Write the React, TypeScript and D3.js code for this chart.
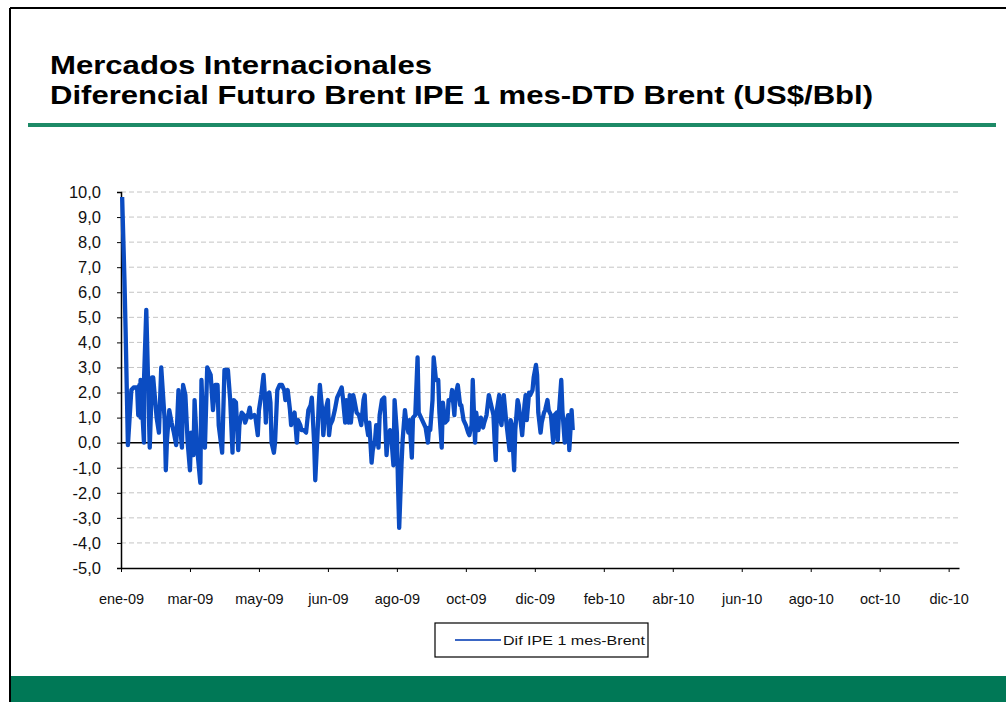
import React, { useRef, useEffect } from 'react';
import * as d3 from 'd3';

// days counted from 1 Jan 2009
const days = [
  1, 3, 4, 6.1, 9.0, 11.9, 14.8, 15.4, 16.2, 17.1, 17.7, 20.0, 20.6, 22.9, 25.5, 27.2, 28.7, 31.6, 33.6,
  35.9, 38.0, 39.4, 40.9, 42.9, 44.3, 46.1, 48.1, 50.4, 51.9, 53.6, 54.8, 56.2, 58.3, 60.3, 61.7, 63.2,
  64.6, 66.4, 69.3, 70.4, 72.2, 73.3, 75.7, 78.0, 80.0, 82.0, 84.3, 85.8, 88.7, 90.1, 93.0, 95.9, 97.4,
  98.8, 100.9, 102.3, 103.8, 105.2, 107.2, 108.7, 111.0, 112.5, 113.9, 116.2, 117.4, 119.1, 120.6, 122.6,
  124.1, 125.5, 126.7, 127.8, 129.3, 130.7, 131.9, 133.3, 134.8, 136.5, 138.6, 140.6, 142.3, 143.8, 145.2,
  147.2, 148.7, 150.1, 151.6, 153.3, 154.5, 156.2, 157.7, 159.7, 161.7, 163.8, 165.5, 166.7, 168.1, 169.9,
  171.3, 172.8, 173.9, 175.4, 176.5, 178.3, 180.0, 181.4, 182.9, 184.9, 186.9, 188.7, 190.1, 192.2, 193.9,
  195.1, 196.5, 198.0, 199.4, 200.9, 202.3, 203.8, 205.2, 207.5, 209.0, 211.0, 212.5, 213.9, 215.4, 216.8,
  218.3, 219.7, 221.2, 222.6, 224.1, 225.5, 227.8, 229.9, 231.3, 232.8, 234.2, 235.7, 237.1, 238.6, 240.0,
  241.4, 242.9, 244.3, 245.8, 247.2, 248.7, 250.1, 251.6, 253.0, 254.5, 256.5, 258.3, 259.7, 261.7, 263.8,
  265.5, 267.0, 268.4, 269.6, 271.3, 272.8, 274.2, 276.2, 277.7, 279.1, 280.6, 282.3, 284.1, 285.8, 287.2,
  288.7, 290.1, 291.6, 293.0, 295.1, 296.5, 298.8, 300.6, 302.3, 303.8, 305.2, 306.7, 308.1, 309.6, 311.6,
  313.3, 315.4, 316.8, 318.3, 320.3, 322.0, 324.1, 325.5, 326.7, 327.8, 329.3, 330.7, 331.9, 333.3, 335.1,
  336.5, 338.0, 339.4, 340.9, 342.3, 343.8, 345.2, 346.7, 348.1, 349.6, 351.0, 352.2, 353.6, 355.1, 356.5,
  358.3, 359.7, 361.2, 362.6, 363.8, 365.5, 366.7, 368.1, 369.6, 371.3, 372.8, 374.2, 376.2, 377.7, 379.1,
  380.6, 381.7, 383.5, 384.9, 386.4, 387.8, 389.3, 390.7, 392.2, 393.3,
];

const values = [
  9.8, 6.5, 4.5, -0.1, 2.1, 2.2, 2.2, 1.1, 2.3, 1.0, 2.5, 0.0, 2.5, 5.3, -0.2, 2.6, 2.6, 1.0, 0.4,
  3.0, 0.9, -1.1, 0.1, 1.3, 0.8, 0.4, -0.1, 2.1, 0.9, -0.2, 2.3, 1.9, 0.0, -1.1, 0.4, -0.5,
  1.7, -0.1, -1.6, 2.5, 0.0, -0.2, 3.0, 2.7, 1.3, 2.3, 2.3, 0.7, -0.4, 2.9, 2.9, 1.7, -0.4,
  1.7, 1.6, -0.3, 0.7, 1.2, 1.1, 0.8, 1.2, 1.4, 1.0, 1.1, 1.0, 0.3, 1.3, 1.9,
  2.7, 2.0, 0.8, 1.9, 2.0, 1.6, 0.0, -0.4, 0.0, 2.1, 2.3, 2.3, 2.1, 1.7, 2.1,
  1.3, 0.7, 1.1, 1.2, 0.0, 0.9, 0.7, 0.5, 0.5, 0.4, 1.3, 1.5, 1.8, 0.0, -1.5,
  0.4, 1.5, 2.3, 1.3, 0.3, 1.3, 1.7, 0.3, 0.7, 0.9, 1.3, 1.8, 2.0, 2.2, 1.8,
  0.8, 1.7, 0.8, 1.9, 0.8, 1.9, 1.7, 1.2, 1.1, 0.7, 1.7, 1.9, 0.9, 0.3, 0.8,
  -0.8, -0.3, 0.1, 0.7, -0.2, 1.1, 1.7, 1.8, -0.5, 0.1, 0.5, 0.3, -0.9, 1.7, 0.4,
  -1.7, -3.4, -0.9, 0.1, 1.3, 0.9, 0.4, 0.9, -0.6, 1.0, 1.1, 3.4, 1.2, 1.0, 0.8,
  0.6, 0.0, 0.6, 0.5, 1.7, 3.4, 2.5, 2.5, 1.2, -0.2, 1.6, 0.8, 0.9, 1.7, 1.7,
  2.1, 1.1, 1.9, 2.3, 1.5, 1.5, 0.9, 0.7, 0.4, 0.3, 0.7, 2.5, 0.0, 1.2, 0.5,
  1.0, 0.6, 0.8, 1.1, 1.9, 1.5, 1.1, 0.1, -0.7, 1.3, 1.9, 0.9, 0.7, 1.9, 0.9,
  0.5, -0.3, 0.9, 0.7, -1.1, 0.5, 1.7, 1.5, 0.7, 0.3, 1.5, 1.9, 0.9, 2.0, 1.9,
  2.1, 2.6, 3.1, 2.7, 1.2, 0.4, 0.8, 1.2, 1.3, 1.7, 1.3, 1.1, 0.0, 1.1, 1.2,
  0.1, 1.2, 2.5, 1.3, 0.0, 0.7, 1.1, -0.3, 1.3, 0.5,
];

const yTicks = [10, 9, 8, 7, 6, 5, 4, 3, 2, 1, 0, -1, -2, -3, -4, -5];
const monthNames = ['ene', 'feb', 'mar', 'abr', 'may', 'jun', 'jul', 'ago', 'sep', 'oct', 'nov', 'dic'];
const titleLines = ['Mercados Internacionales', 'Diferencial Futuro Brent IPE 1 mes-DTD Brent (US$/Bbl)'];
const seriesName = 'Dif IPE 1 mes-Brent';

const FONT = '"Liberation Sans", Arial, sans-serif';
const BLUE = '#0b4cc2';

const dayToDate = (d: number) => new Date(2009, 0, 1 + d);

const App = () => {
  const ref = useRef<SVGSVGElement>(null);

  useEffect(() => {
    const svg = d3.select(ref.current);
    svg.selectAll('*').remove();

    // page frame
    svg.append('line').attr('x1', 10).attr('y1', 8).attr('x2', 1006).attr('y2', 8)
      .attr('stroke', '#000').attr('stroke-width', 2);
    svg.append('line').attr('x1', 10).attr('y1', 8).attr('x2', 10).attr('y2', 702)
      .attr('stroke', '#000').attr('stroke-width', 2);
    svg.append('rect').attr('x', 11).attr('y', 676).attr('width', 995).attr('height', 26)
      .attr('fill', '#007856');

    // title
    titleLines.forEach((t, i) => {
      svg.append('text')
        .attr('x', 50).attr('y', 74 + i * 30)
        .attr('font-family', FONT).attr('font-weight', 'bold').attr('font-size', 26.5)
        .attr('textLength', i === 0 ? 382 : 823).attr('lengthAdjust', 'spacingAndGlyphs')
        .attr('fill', '#000')
        .text(t);
    });
    svg.append('rect').attr('x', 28).attr('y', 123).attr('width', 968).attr('height', 4)
      .attr('fill', '#1d8a67');

    const left = 121, right = 959, top = 192, bottom = 568;
    const x = d3.scaleTime().domain([dayToDate(0), dayToDate(729)]).range([left, right]);
    const y = d3.scaleLinear().domain([-5, 10]).range([bottom, top]);

    // dashed gridlines
    svg.append('g').selectAll('line')
      .data(yTicks.filter(v => v !== 0 && v !== -5))
      .enter().append('line')
      .attr('x1', left).attr('x2', right)
      .attr('y1', d => y(d)).attr('y2', d => y(d))
      .attr('stroke', '#c4c4c4').attr('stroke-width', 1).attr('stroke-dasharray', '5,3');

    // y axis
    const yAxis = svg.append('g')
      .attr('transform', `translate(${left},0)`)
      .call(d3.axisLeft(y).tickValues(yTicks).tickSize(4).tickPadding(16)
        .tickFormat(d => d3.format('.1f')(d as number).replace('.', ',').replace('−', '-')));
    yAxis.select('.domain').attr('stroke', '#000').attr('stroke-width', 1.5);
    yAxis.selectAll('.tick line').attr('stroke', '#000');
    yAxis.selectAll('text').attr('font-family', FONT).attr('font-size', 16.5).attr('fill', '#111');

    // x axis
    const xTicks = d3.range(0, 721, 60).map(dayToDate);
    const xAxis = svg.append('g')
      .attr('transform', `translate(0,${bottom})`)
      .call(d3.axisBottom(x).tickValues(xTicks).tickSize(4).tickSizeOuter(0).tickPadding(22)
        .tickFormat(d => {
          const dt = d as Date;
          return `${monthNames[dt.getMonth()]}-${String(dt.getFullYear()).slice(2)}`;
        }));
    xAxis.select('.domain').attr('stroke', '#000').attr('stroke-width', 1.5);
    xAxis.selectAll('.tick line').attr('stroke', '#000');
    xAxis.selectAll('text').attr('font-family', FONT).attr('font-size', 14.5).attr('fill', '#111');

    // zero line
    svg.append('line')
      .attr('x1', left).attr('x2', right)
      .attr('y1', y(0)).attr('y2', y(0))
      .attr('stroke', '#000').attr('stroke-width', 1.5);

    // series
    const line = d3.line<number>()
      .x((d, i) => x(dayToDate(days[i])))
      .y(d => y(d));
    svg.append('path')
      .datum(values)
      .attr('d', line)
      .attr('fill', 'none')
      .attr('stroke', BLUE)
      .attr('stroke-width', 4.3)
      .attr('stroke-linejoin', 'round');

    // legend
    const lg = svg.append('g').attr('transform', 'translate(435,623)');
    lg.append('rect').attr('width', 213).attr('height', 34)
      .attr('fill', '#fff').attr('stroke', '#000').attr('stroke-width', 1.2);
    lg.append('line').attr('x1', 20).attr('x2', 66).attr('y1', 17).attr('y2', 17)
      .attr('stroke', '#3a66c4').attr('stroke-width', 2);
    lg.append('text').attr('x', 68).attr('y', 22)
      .attr('font-family', FONT).attr('font-size', 13.5).attr('fill', '#111')
      .attr('textLength', 142).attr('lengthAdjust', 'spacingAndGlyphs')
      .text(seriesName);
  }, []);

  return (
    <svg ref={ref} width={1006} height={702}
      style={{ position: 'absolute', left: 0, top: 0, background: '#fff' }} />
  );
};

export default App;
